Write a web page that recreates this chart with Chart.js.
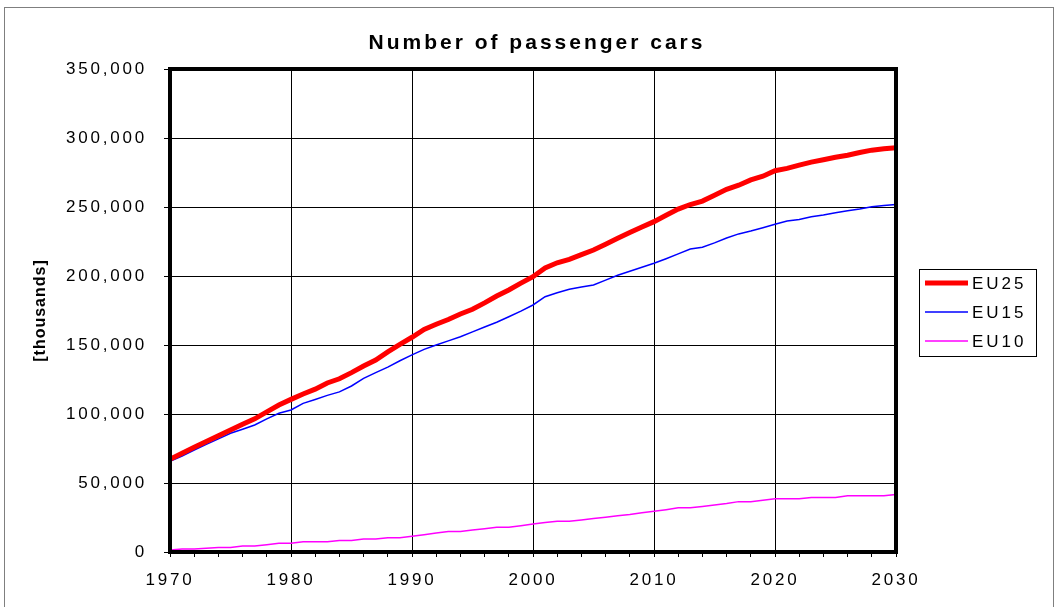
<!DOCTYPE html>
<html><head><meta charset="utf-8">
<script src="https://cdn.jsdelivr.net/npm/chart.js@4/dist/chart.umd.min.js"></script>
<style>html,body{margin:0;padding:0;background:#fff;overflow:hidden}</style>
</head><body>
<canvas id="c" width="1058" height="607"></canvas>
<script>
const chartTitle = 'Number of passenger cars';
const yAxisTitle = '[thousands]';
const seriesNames = ['EU25', 'EU15', 'EU10'];
const years = [1970,1971,1972,1973,1974,1975,1976,1977,1978,1979,
  1980,1981,1982,1983,1984,1985,1986,1987,1988,1989,
  1990,1991,1992,1993,1994,1995,1996,1997,1998,1999,
  2000,2001,2002,2003,2004,2005,2006,2007,2008,2009,
  2010,2011,2012,2013,2014,2015,2016,2017,2018,2019,
  2020,2021,2022,2023,2024,2025,2026,2027,2028,2029,2030];
const eu25 = [67200,71500,75900,80000,84300,88400,92500,96500,101500,106500,
  110600,114500,118000,122500,125500,130000,134800,139100,145000,150500,
  155600,161300,165000,168500,172500,175900,180500,185500,189900,194800,
  199500,205800,209600,212100,215500,218800,223000,227300,231500,235500,
  239400,244000,248500,251800,254300,258500,262800,265800,269600,272300,
  276300,278000,280300,282500,284200,286000,287500,289500,291200,292200,293000];
const eu15 = [65700,69500,73900,78000,82000,86000,89000,92000,96500,100500,
  102900,107700,110500,113500,116000,120300,125800,130000,134000,138600,
  142800,146800,150000,153000,156000,159500,163000,166500,170500,174500,
  179000,185000,187900,190400,192000,193500,197000,200500,203500,206300,
  209200,212500,216000,219500,220800,224000,227500,230500,232600,235000,
  237500,239800,241000,243000,244200,245900,247200,248500,250200,251000,251900];
const eu10 = [1500,2200,2200,2700,3200,3200,4300,4300,5300,6300,
  6300,7400,7400,7400,8400,8400,9400,9400,10400,10400,
  11400,12500,13700,14900,14900,15900,16900,17900,17900,19100,
  20300,21400,22300,22300,23200,24200,25200,26200,27200,28400,
  29500,30700,32000,32000,33000,34100,35200,36500,36500,37500,
  38500,38500,38500,39500,39500,39500,40700,40700,40700,40700,41700];
const yTickValues = [0,50000,100000,150000,200000,250000,300000,350000];
const xLabelYears = [1970,1980,1990,2000,2010,2020,2030];
const xMinorTickYears = [1970,1972,1974,1976,1978,1980,1982,1984,1986,1988,1990,1992,1994,1996,1998,
  2000,2002,2004,2006,2008,2010,2012,2014,2016,2018,2020,2022,2024,2026,2028,2030];

const FONT = "'Liberation Sans', Arial, sans-serif";
const pts = arr => years.map((yr, i) => ({x: yr, y: arr[i]}));

const framePlugin = {
  id: 'frame',
  beforeDraw(chart) {
    const ctx = chart.ctx;
    ctx.save();
    ctx.fillStyle = '#fff';
    ctx.fillRect(0, 0, chart.width, chart.height);
    ctx.strokeStyle = '#7f7f7f';
    ctx.lineWidth = 1;
    ctx.strokeRect(4.5, 7.5, 1049, 700);
    ctx.restore();
    ctx.letterSpacing = '2.8px';
  },
  afterDatasetsDraw(chart) {
    const {ctx, chartArea: a} = chart;
    ctx.save();
    ctx.strokeStyle = '#000';
    ctx.lineWidth = 4;
    ctx.strokeRect(a.left, a.top, a.right - a.left, a.bottom - a.top);
    ctx.restore();
  },
  afterDraw(chart) {
    const {ctx, chartArea: a} = chart;
    ctx.save();
    // title
    ctx.letterSpacing = '3px';
    ctx.font = 'bold 21px ' + FONT;
    ctx.fillStyle = '#000';
    ctx.textAlign = 'center';
    ctx.textBaseline = 'middle';
    ctx.fillText(chartTitle, (a.left + a.right) / 2 + 4, 43);
    // y axis title
    ctx.save();
    ctx.letterSpacing = '1px';
    ctx.font = 'bold 16px ' + FONT;
    ctx.translate(41, (a.top + a.bottom) / 2);
    ctx.rotate(-Math.PI / 2);
    ctx.fillText(yAxisTitle, 0, 0);
    ctx.restore();
    // legend
    ctx.lineWidth = 1;
    ctx.strokeStyle = '#000';
    ctx.strokeRect(919.5, 269.5, 117, 87);
    ctx.letterSpacing = '3px';
    ctx.font = '17px ' + FONT;
    ctx.textAlign = 'left';
    ctx.textBaseline = 'middle';
    chart.data.datasets.forEach((ds, i) => {
      const y = 283 + i * 29;
      ctx.strokeStyle = ds.borderColor;
      ctx.lineWidth = ds.borderWidth;
      ctx.beginPath();
      ctx.moveTo(925, y);
      ctx.lineTo(968, y);
      ctx.stroke();
      ctx.fillStyle = '#000';
      ctx.fillText(ds.label, 972, y + 1);
    });
    ctx.restore();
  }
};

new Chart(document.getElementById('c'), {
  type: 'line',
  data: {
    datasets: [
      {label: seriesNames[0], data: pts(eu25), borderColor: '#FF0000', borderWidth: 5, pointRadius: 0, tension: 0},
      {label: seriesNames[1], data: pts(eu15), borderColor: '#0000FF', borderWidth: 1.5, pointRadius: 0, tension: 0},
      {label: seriesNames[2], data: pts(eu10), borderColor: '#FF00FF', borderWidth: 1.5, pointRadius: 0, tension: 0}
    ]
  },
  options: {
    responsive: false,
    animation: false,
    devicePixelRatio: 1,
    layout: {padding: {top: 69, right: 162, bottom: 0, left: 0}},
    plugins: {legend: {display: false}, title: {display: false}, tooltip: {enabled: false}},
    scales: {
      x: {
        type: 'linear', min: 1970, max: 2030,
        afterFit(s) { s.height = 55; },
        afterBuildTicks(s) { s.ticks = xMinorTickYears.map(v => ({value: v})); },
        ticks: {
          autoSkip: false, maxRotation: 0, color: '#000', padding: 13,
          font: {family: FONT, size: 17},
          callback: v => xLabelYears.includes(v) ? String(v) : ''
        },
        grid: {
          color: c => (c.tick && xLabelYears.includes(c.tick.value)) ? '#000' : 'rgba(0,0,0,0)',
          lineWidth: 1, tickColor: '#000', tickLength: 5, tickWidth: 1
        },
        border: {display: false}
      },
      y: {
        min: 0, max: 350000,
        afterFit(s) { s.width = 170; },
        afterBuildTicks(s) { s.ticks = yTickValues.map(v => ({value: v})); },
        ticks: {
          color: '#000', padding: 17,
          font: {family: FONT, size: 17},
          callback: v => v.toLocaleString('en-US')
        },
        grid: {color: '#000', lineWidth: 1, tickColor: '#000', tickLength: 6},
        border: {display: false}
      }
    }
  },
  plugins: [framePlugin]
});
</script>
</body></html>
